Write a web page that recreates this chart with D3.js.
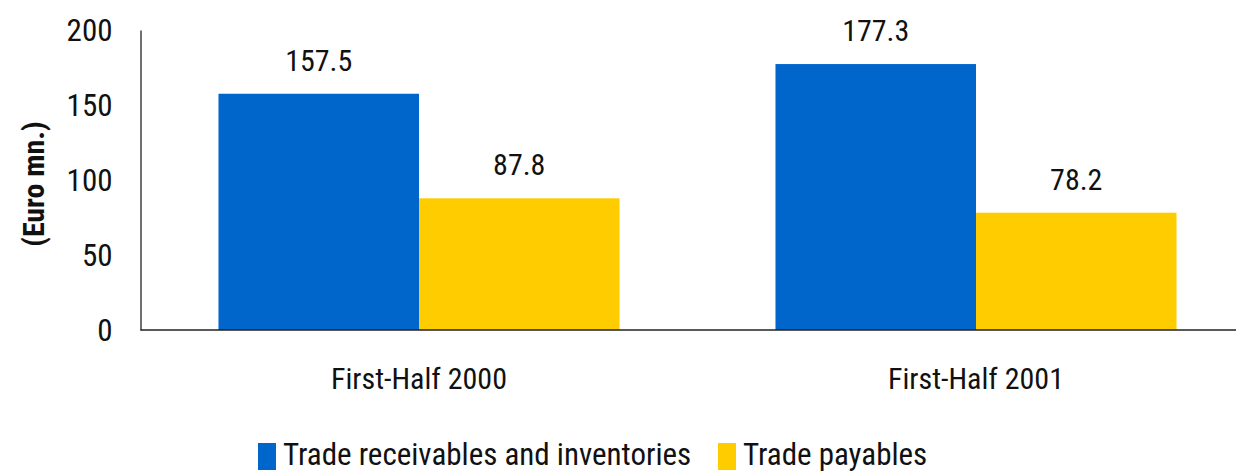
<!DOCTYPE html>
<html><head><meta charset="utf-8">
<script src="https://cdn.jsdelivr.net/npm/d3@7"></script>
<style>
body{margin:0;background:#fff;}
svg text{font-family:"Liberation Sans Narrow","Arial Narrow","Roboto Condensed",sans-serif;fill:#111;}
</style></head>
<body><svg id="c" width="1236" height="474"></svg>
<script>
const categories = ["First-Half 2000", "First-Half 2001"];
const seriesNames = ["Trade receivables and inventories", "Trade payables"];
const receivables = [157.5, 177.3];
const payables = [87.8, 78.2];
const yTicks = [0, 50, 100, 150, 200];
const colors = ["#0066CC", "#FFCC00"];

const svg = d3.select("#c");
const y0 = 330, y1 = 30, xL = 140.5;
const y = d3.scaleLinear().domain([0, 200]).range([y0, y1]);
const x = d3.scaleBand().domain(categories).range([xL, 1254.5]).paddingInner(0.28).paddingOuter(0.14);
const xs = d3.scaleBand().domain(seriesNames).range([0, x.bandwidth()]);

const data = categories.map((c, i) => ({cat: c, vals: [receivables[i], payables[i]]}));

const g = svg.append("g");
data.forEach(d => {
  d.vals.forEach((v, j) => {
    g.append("rect")
      .attr("x", x(d.cat) + xs(seriesNames[j]))
      .attr("y", y(v))
      .attr("width", xs.bandwidth())
      .attr("height", y(0) - y(v))
      .attr("fill", colors[j]);
    g.append("text")
      .attr("x", x(d.cat) + xs(seriesNames[j]) + xs.bandwidth() / 2)
      .attr("y", y(v) - 23)
      .attr("text-anchor", "middle")
      .attr("font-size", 30)
      .text(v.toFixed(1));
  });
});

// y axis
const ya = svg.append("g").attr("transform", `translate(${xL},0)`)
  .call(d3.axisLeft(y).tickValues(yTicks).tickSize(0).tickPadding(28));
ya.select(".domain").attr("stroke", "#222").attr("stroke-width", 1.3);
ya.selectAll("text").attr("font-size", 31).attr("font-family", null).attr("dy", "0.35em");

// x axis
const xa = svg.append("g").attr("transform", `translate(0,${y0})`)
  .call(d3.axisBottom(x).tickSize(0).tickPadding(38));
xa.select(".domain").remove();
svg.append("line").attr("x1", xL).attr("x2", 1236).attr("y1", y0).attr("y2", y0)
  .attr("stroke", "#222").attr("stroke-width", 1.5);
xa.selectAll("text").attr("font-size", 30).attr("font-family", null);

// y title
svg.append("text")
  .attr("transform", `translate(44,${(y0 + y1) / 2 + 4}) rotate(-90)`)
  .attr("text-anchor", "middle")
  .attr("font-size", 30).attr("font-weight", "bold")
  .text("(Euro mn.)");

// legend
const legendX = [258, 718];
seriesNames.forEach((s, j) => {
  svg.append("rect").attr("x", legendX[j]).attr("y", 443).attr("width", 18).attr("height", 27).attr("fill", colors[j]);
  svg.append("text").attr("x", legendX[j] + 25).attr("y", 465).attr("font-size", 31).text(s);
});
</script></body></html>
